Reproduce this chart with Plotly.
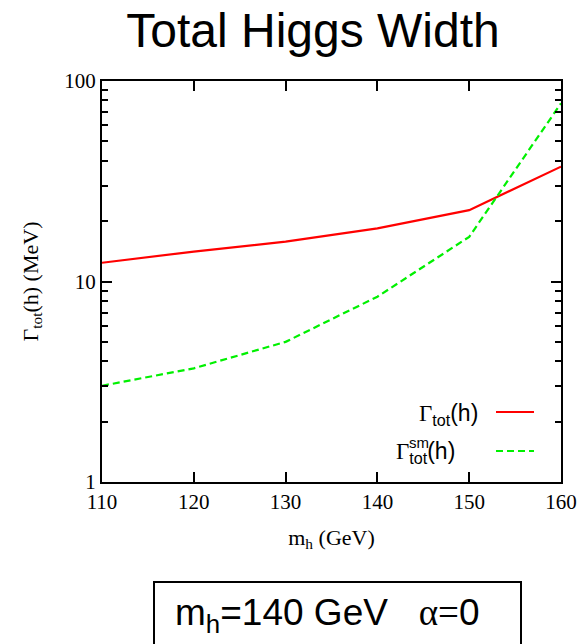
import plotly.graph_objects as go

# Higgs mass scan points (GeV)
m_h = [110, 120, 130, 140, 150, 160]
# total width of h in this model (MeV)
gamma_tot = [12.4, 14.1, 15.8, 18.4, 22.7, 37.4]
# Standard Model total width (MeV)
gamma_tot_sm = [3.02, 3.69, 5.0, 8.4, 16.7, 77.4]

x_ticks = [110, 120, 130, 140, 150, 160]
y_ticks = [1, 10, 100]
y_minor = [2, 3, 4, 5, 6, 7, 8, 9, 20, 30, 40, 50, 60, 70, 80, 90]

W, H = 582, 644
L, R, T, B = 102, 21, 81, 162
pw, ph = W - L - R, H - T - B


def px(x):
    return (x - L) / pw


def py(y):
    return (H - B - y) / ph


RED = "#ff0000"
GREEN = "#00f000"

fig = go.Figure()
fig.add_trace(go.Scatter(x=m_h, y=gamma_tot, mode="lines",
                         line=dict(color=RED, width=2.2),
                         showlegend=False))
fig.add_trace(go.Scatter(x=m_h, y=gamma_tot_sm, mode="lines",
                         line=dict(color=GREEN, width=2.2, dash="7px,4px"),
                         showlegend=False))

serif = "Liberation Serif, Times New Roman, serif"
sans = "Liberation Sans, Arial, sans-serif"
G = "<span style='font-family:Liberation Serif'>Γ</span>"

fig.update_layout(
    width=W, height=H,
    margin=dict(l=L, r=R, t=T, b=B, autoexpand=False),
    paper_bgcolor="white", plot_bgcolor="white",
    title=dict(text="Total Higgs Width", x=313 / W, xanchor="center",
               y=1 - 30 / H, yanchor="middle",
               font=dict(family=sans, size=48, color="black")),
    xaxis=dict(range=[110, 160], tickvals=x_ticks, ticks="inside", ticklen=10,
               tickwidth=1.5, tickcolor="black", showline=True, linecolor="black",
               linewidth=2, mirror="ticks", showgrid=False, zeroline=False,
               automargin=False,
               tickfont=dict(family=serif, size=21, color="black"),
               title=dict(text="m<sub>h</sub> (GeV)", standoff=16,
                          font=dict(family=serif, size=22, color="black"))),
    yaxis=dict(type="log", range=[0, 2], tickvals=y_ticks, ticks="inside",
               ticklen=10, tickwidth=1.5, tickcolor="black", showline=True,
               linecolor="black", linewidth=2, mirror="ticks", showgrid=False,
               zeroline=False, automargin=False,
               minor=dict(tickvals=y_minor, ticks="inside", ticklen=6,
                          tickwidth=1.5, tickcolor="black", showgrid=False),
               tickfont=dict(family=serif, size=21, color="black"),
               title=dict(text="Γ<sub>tot</sub>(h) (MeV)", standoff=20,
                          font=dict(family=serif, size=22, color="black"))),
)

# legend: labels on the left, line samples on the right
fig.add_annotation(xref="paper", yref="paper", x=px(480), y=py(414),
                   xanchor="right", yanchor="middle", showarrow=False,
                   text=G + "<sub>tot</sub>(h)",
                   font=dict(family=sans, size=23, color="black"))
fig.add_annotation(xref="paper", yref="paper", x=px(457), y=py(452),
                   xanchor="right", yanchor="middle", showarrow=False,
                   text=G + "<sub>tot</sub>(h)",
                   font=dict(family=sans, size=23, color="black"))
fig.add_annotation(xref="paper", yref="paper", x=px(407), y=py(442),
                   xanchor="left", yanchor="middle", showarrow=False,
                   text="sm", font=dict(family=sans, size=15, color="black"))
fig.add_shape(type="line", xref="paper", yref="paper",
              x0=px(496), x1=px(534), y0=py(412), y1=py(412),
              line=dict(color=RED, width=2.2))
fig.add_shape(type="line", xref="paper", yref="paper",
              x0=px(496), x1=px(534), y0=py(451), y1=py(451),
              line=dict(color=GREEN, width=2.2, dash="7px,4px"))

# parameter box below the plot
fig.add_shape(type="rect", xref="paper", yref="paper",
              x0=px(154), x1=px(521), y0=py(582), y1=py(660),
              line=dict(color="black", width=2), fillcolor="white")
fig.add_annotation(xref="paper", yref="paper", x=px(327), y=py(615),
                   xanchor="center", yanchor="middle", showarrow=False,
                   text="m<sub>h</sub>=140 GeV   <span style='font-family:Liberation Serif'>α=</span>0",
                   font=dict(family=sans, size=37, color="black"))

fig.write_html("out.html")
